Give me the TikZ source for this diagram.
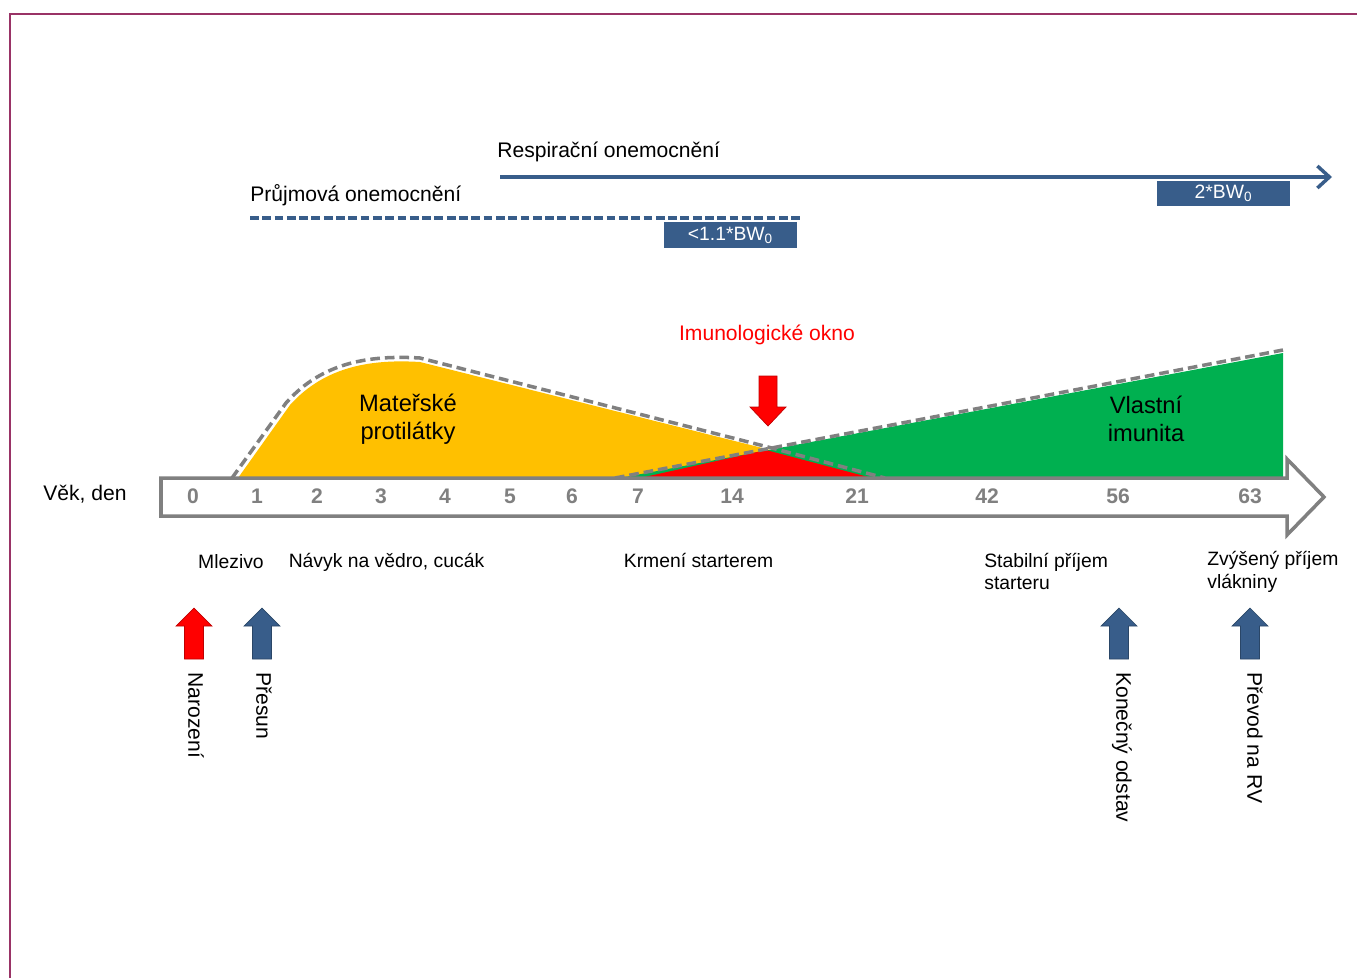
\documentclass[tikz,border=0pt]{standalone}
\usepackage{fontspec}
\setmainfont{Liberation Sans}
\usetikzlibrary{arrows.meta, positioning, calc}
\definecolor{framered}{HTML}{993366}
\definecolor{axisgray}{HTML}{808080}
\definecolor{dblue}{HTML}{385D8A}
\definecolor{matyellow}{HTML}{FFC000}
\definecolor{owngreen}{HTML}{00B050}
\definecolor{darkred}{HTML}{C00000}

\tikzset{
  lbl/.style={inner sep=0pt, font=\fontsize{11pt}{13pt}\selectfont},
  big/.style={inner sep=0pt, font=\fontsize{12pt}{14pt}\selectfont},
  day/.style={inner sep=0pt, text=axisgray, font=\fontsize{12pt}{14pt}\selectfont\bfseries},
  bwbox/.style={fill=dblue, text=white, inner sep=0pt, minimum width=2.66cm, minimum height=0.51cm, font=\fontsize{11pt}{13pt}\selectfont},
  envline/.style={draw=axisgray, line width=2pt, dash pattern=on 5.5pt off 2.8pt},
  vert/.style={big, rotate=-90, anchor=west}
}

\begin{document}
\begin{tikzpicture}[x=0.02cm, y=-0.02cm, >=Stealth]
\useasboundingbox (0,0) rectangle (1357,978);
% frame
\draw[framered, line width=0.8pt] (10,978) -- (10,14) -- (1357,14);

% disease lines
\coordinate (resp start) at (500,177);
\coordinate (resp end) at (1332,177);
\coordinate (diar start) at (250,218);
\coordinate (diar end) at (800,218);
\node[big, anchor=west] (resp) at (497,152) {Respirační onemocnění};
\node[big, anchor=west] (diar) at (250,195) {Průjmová onemocnění};
\draw[dblue, line width=2pt, -{Straight Barb[length=2.4mm, width=4.4mm]}] (resp start) -- (resp end);
\draw[dblue, line width=2pt, dash pattern=on 5pt off 2pt] (diar start) -- (diar end);
\node[bwbox] (bw2) at (1223.5,193.5) {2*BW\textsubscript{0}};
\node[bwbox] (bw11) at (730.5,235) {<1.1*BW\textsubscript{0}};

% immunity areas
\fill[matyellow] (238,478) -- (290,405) .. controls (325,366) and (372,359) .. (420,362) -- (882,478) -- cycle;
\fill[owngreen] (620,478) -- (1283,353) -- (1283,478) -- cycle;
\fill[red] (640,478) -- (766,450) -- (872,478) -- cycle;
\draw[envline] (232,478) -- (286,403) .. controls (322,362) and (370,355) .. (420,358) -- (768,447) -- (885,478);
\draw[envline] (615,478) -- (1283,350);

\node[font=\fontsize{13.5pt}{16pt}\selectfont, align=center, inner sep=0pt] (mat) at (408,419) {Mateřské\\protilátky};
\node[font=\fontsize{13.5pt}{16pt}\selectfont, align=center, inner sep=0pt] (own) at (1146,419) {Vlastní\\imunita};

% immunological window
\node[big, text=red] (window) at (767,335) {Imunologické okno};
\filldraw[fill=red, draw=darkred, line width=0.4pt] (759,376) -- (777,376) -- (777,407) -- (786,407) -- (768,426) -- (750,407) -- (759,407) -- cycle;

% time axis
\filldraw[fill=white, draw=axisgray, line width=2pt] (161,478) -- (1287,478) -- (1287,459) -- (1324,497) -- (1287,535) -- (1287,516) -- (161,516) -- cycle;
\node[big] (age) at (85,494) {Věk, den};
\foreach \d/\x in {0/193, 1/257, 2/317, 3/381, 4/445, 5/510, 6/572, 7/638, 14/732, 21/857, 42/987, 56/1118, 63/1250}
  \node[day] (d\d) at (\x,496) {\d};

% feeding
\node[lbl] (colostrum) at (231,562) {Mlezivo};
\node[lbl] (bucket) at (386.5,562) {Návyk na vědro, cucák};
\node[lbl] (starter) at (698.5,560) {Krmení starterem};
\node[lbl, align=left, anchor=west] (stable) at (984,571.5) {Stabilní příjem\\starteru};
\node[lbl, align=left, anchor=west] (fibre) at (1207,571.5) {Zvýšený příjem\\vlákniny};

% events
\foreach \ax/\col in {194/red, 262/dblue, 1119/dblue, 1250/dblue}
  \filldraw[fill=\col, draw=\col!75!black, line width=0.4pt] ({\ax-9.5},659) -- ({\ax-9.5},626) -- ({\ax-18},626) -- (\ax,608) -- ({\ax+18},626) -- ({\ax+9.5},626) -- ({\ax+9.5},659) -- cycle;
\node[vert] (birth) at (196,672) {Narození};
\node[vert] (move) at (264,672) {Přesun};
\node[vert] (weaning) at (1122,672) {Konečný odstav};
\node[vert] (group) at (1255,672) {Převod na RV};
\end{tikzpicture}
\end{document}
